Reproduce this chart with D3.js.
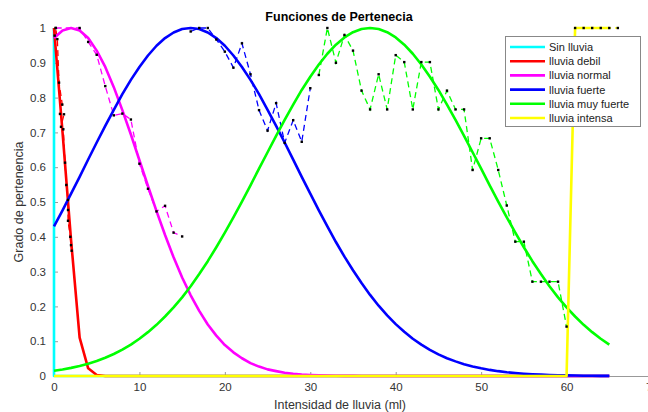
<!DOCTYPE html>
<html><head><meta charset="utf-8">
<script src="https://cdn.jsdelivr.net/npm/d3@7/dist/d3.min.js"></script>
<style>body{margin:0;background:#fff;}svg{display:block;font-family:"Liberation Sans",Arial,sans-serif;}</style>
</head><body>
<svg id="chart" width="648" height="412"></svg>
<script>
// ---- data ----
const xGrid = [0,1,2,3,4,5,6,7,8,9,10,11,12,13,14,15,16,17,18,19,20,21,22,23,24,25,26,27,28,29,30,31,32,33,34,35,36,37,38,39,40,41,42,43,44,45,46,47,48,49,50,51,52,53,54,55,56,57,58,59,60,61,62,63,64,65];
const sinLluvia = [[0,1],[0,0],[65,0]];
const debil = [1,0.70,0.39,0.11,0.022,0.003,0,0,0,0,0,0,0,0,0,0,0,0,0,0,0,0,0,0,0,0,0,0,0,0,0,0,0,0,0,0,0,0,0,0,0,0,0,0,0,0,0,0,0,0,0,0,0,0,0,0,0,0,0,0,0,0,0,0,0,0];
const normal = [0.971,0.993,1,0.993,0.971,0.935,0.888,0.830,0.764,0.694,0.620,0.546,0.474,0.405,0.341,0.283,0.232,0.187,0.148,0.116,0.089,0.068,0.051,0.037,0.027,0.019,0.014,0.0094,0.0064,0.0043,0.0029,0.0019,0.0012,0.0008,0.0005,0.0003,0,0,0,0,0,0,0,0,0,0,0,0,0,0,0,0,0,0,0,0,0,0,0,0,0,0,0,0,0,0];
const fuerte = [0.430,0.476,0.524,0.572,0.622,0.671,0.719,0.765,0.810,0.851,0.888,0.921,0.949,0.971,0.987,0.997,1,0.997,0.987,0.971,0.949,0.921,0.888,0.851,0.810,0.765,0.719,0.671,0.622,0.572,0.524,0.476,0.430,0.385,0.343,0.304,0.267,0.233,0.202,0.174,0.149,0.127,0.107,0.090,0.075,0.062,0.051,0.042,0.034,0.0275,0.022,0.0175,0.0139,0.0109,0.0085,0.0066,0.0051,0.0039,0.0030,0.0022,0.0017,0.0013,0.0009,0.0007,0.0005,0.0004];
const muyFuerte = [0.0150,0.0188,0.0233,0.0288,0.0354,0.0432,0.0525,0.0632,0.0758,0.0903,0.107,0.126,0.147,0.171,0.197,0.226,0.258,0.293,0.330,0.370,0.412,0.456,0.501,0.548,0.596,0.643,0.690,0.736,0.780,0.822,0.860,0.895,0.926,0.952,0.973,0.988,0.997,1,0.997,0.988,0.973,0.952,0.926,0.895,0.860,0.822,0.780,0.736,0.690,0.643,0.596,0.548,0.501,0.456,0.412,0.370,0.330,0.293,0.258,0.226,0.197,0.171,0.147,0.126,0.107,0.090];
const intensa = [[0,0],[60,0],[61,1],[65,1]];

// measured (dashed) series
const debilPts = [[0.08,0.978],[0.2,1.0],[0.39,0.968],[0.59,0.843],[0.97,0.78],[0.7,0.753],[1.17,0.752],[0.82,0.716],[1.09,0.709],[1.29,0.613],[1.44,0.549],[1.64,0.506],[1.64,0.477],[1.64,0.446],[1.91,0.40],[1.99,0.376],[2.07,0.36]];
const normalPts = [[0.2,1],[3,1],[4,0.96],[5,0.923],[6,0.833],[7,0.749],[8,0.754],[9,0.737],[10,0.61],[11,0.538],[12,0.473],[13,0.489],[14,0.412],[15,0.401]];
const fuertePts = [[16,0.99],[17,1],[18,1],[19,0.967],[20,0.932],[21,0.886],[22,0.956],[23,0.867],[24,0.764],[25,0.705],[26,0.784],[27,0.67],[28,0.735],[29,0.673],[30,0.827]];
const muyFuertePts = [[31,0.865],[32,1],[33,0.90],[34,0.98],[35,0.935],[36,0.82],[37,0.766],[38,0.867],[39,0.766],[40,0.922],[41,0.902],[42,0.766],[43,0.902],[44,0.902],[45,0.766],[46,0.82],[47,0.766],[48,0.766],[49,0.592],[50,0.683],[51,0.683],[52,0.592],[53,0.49],[54,0.386],[55,0.386],[56,0.271],[57,0.271],[58,0.271],[59,0.271],[60,0.142]];
const intensaPts = [[61,1],[62,1],[63,1],[64,1],[65,1],[66,1]];

const legendLabels = ["Sin lluvia","lluvia debil","lluvia normal","lluvia fuerte","lluvia muy fuerte","lluvia intensa"];
const colors = ["#00ffff","#ff0000","#ff00ff","#0000ff","#00ff00","#ffff00"];
const xTicks = [0,10,20,30,40,50,60,70];
const yTicks = [0,0.1,0.2,0.3,0.4,0.5,0.6,0.7,0.8,0.9,1];

// ---- drawing ----
const svg = d3.select("#chart");
const x = d3.scaleLinear().domain([0,70]).range([54,652]);
const y = d3.scaleLinear().domain([0,1]).range([376,28]);

const zipGrid = vals => xGrid.map((xv,i)=>[xv, vals[i]]);
const solids = [sinLluvia, zipGrid(debil), zipGrid(normal), zipGrid(fuerte), zipGrid(muyFuerte), intensa];
const dashed = [null, debilPts, normalPts, fuertePts, muyFuertePts, intensaPts];

const line = d3.line().x(d=>x(d[0])).y(d=>y(d[1]));

// axes
const xAxis = d3.axisBottom(x).tickValues(xTicks).tickSize(-4).tickPadding(7).tickFormat(d3.format("d"));
const yAxis = d3.axisLeft(y).tickValues(yTicks).tickSize(-4).tickPadding(8).tickFormat(d=> d===0||d===1 ? String(d) : d.toFixed(1));
const gx = svg.append("g").attr("transform","translate(0,376)").call(xAxis);
const gy = svg.append("g").attr("transform","translate(54,0)").call(yAxis);
[gx,gy].forEach(g=>{
  g.selectAll("path").attr("stroke","#999");
  g.selectAll("line").attr("stroke","#999");
  g.selectAll("text").attr("fill","#333").style("font-size","11.5px");
});

// dashed measured lines
dashed.forEach((pts,i)=>{
  if(!pts) return;
  svg.append("path").datum(pts).attr("d",line).attr("fill","none")
    .attr("stroke",colors[i]).attr("stroke-width",1.3).attr("stroke-dasharray","6,4");
});

// solid curves
solids.forEach((pts,i)=>{
  svg.append("path").datum(pts).attr("d",line).attr("fill","none")
    .attr("stroke",colors[i]).attr("stroke-width",2.6).attr("stroke-linejoin","round");
});

// markers
dashed.forEach(pts=>{
  if(!pts) return;
  svg.append("g").selectAll("rect").data(pts).join("rect")
    .attr("x",d=>x(d[0])-1.2).attr("y",d=>y(d[1])-1.2).attr("width",2.4).attr("height",2.4).attr("fill","#000");
});

// title & labels
svg.append("text").attr("x",339).attr("y",21).attr("text-anchor","middle")
  .style("font-weight","bold").style("font-size","12.5px").attr("fill","#000").text("Funciones de Pertenecia");
svg.append("text").attr("x",340).attr("y",409).attr("text-anchor","middle")
  .style("font-size","12.5px").attr("fill","#333").text("Intensidad de lluvia (ml)");
svg.append("text").attr("transform","translate(23,202) rotate(-90)").attr("text-anchor","middle")
  .style("font-size","12.5px").attr("fill","#333").text("Grado de pertenencia");

// legend
const lg = svg.append("g");
lg.append("rect").attr("x",505.5).attr("y",36.5).attr("width",135).attr("height",90)
  .attr("fill","#fff").attr("stroke","#888").attr("stroke-width",1);
legendLabels.forEach((lab,i)=>{
  const yy = 47 + i*14.2;
  lg.append("line").attr("x1",510).attr("x2",545).attr("y1",yy).attr("y2",yy)
    .attr("stroke",colors[i]).attr("stroke-width",2.6);
  lg.append("text").attr("x",549).attr("y",yy+4).style("font-size","11px").attr("fill","#222").text(lab);
});
</script>
</body></html>
